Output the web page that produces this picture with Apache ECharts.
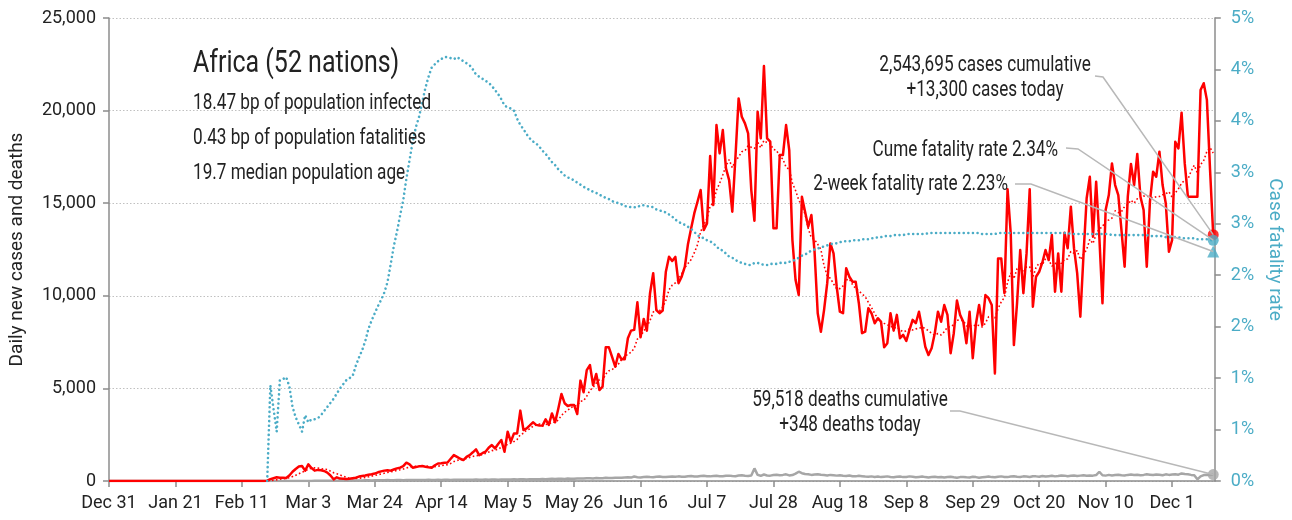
<!DOCTYPE html>
<html>
<head>
<meta charset="utf-8">
<title>Africa (52 nations)</title>
<script src="https://cdn.jsdelivr.net/npm/echarts@6/dist/echarts.min.js"></script>
<style>
  html, body { margin: 0; padding: 0; background: #ffffff; }
  #chart { width: 1292px; height: 520px; }
</style>
</head>
<body>
<div id="chart"></div>
<script>
// ---- Data -------------------------------------------------------------
// Day 0 is Dec 31, 2019; one value per day.
const startDateUTC = Date.UTC(2019, 11, 31);
const tickEveryDays = 21;
const monthNames = ['Jan','Feb','Mar','Apr','May','Jun','Jul','Aug','Sep','Oct','Nov','Dec'];

// Daily new cases
const dailyCases = [
  0,0,0,0,0,0,0,0,0,0, 0,0,0,0,0,0,0,0,0,0, 0,0,0,0,0,0,0,0,0,0,
  0,0,0,0,0,0,0,0,0,0, 0,0,0,0,0,0,0,0,0,0,
  20,100,150,200,180,170,160,300,500,650,
  780,810,560,900,700,560,600,580,540,450,
  300,90,200,130,120,110,120,150,180,240,
  270,300,340,360,400,470,520,560,580,560,
  620,680,720,800,990,900,720,760,790,810,
  770,740,720,850,945,960,980,1000,1200,1400,
  1300,1200,1130,1300,1400,1550,1710,1400,1500,1580,
  1800,1940,1760,2000,2210,1580,2660,2120,2570,2570,
  3800,2750,2840,3000,3170,3030,3000,2990,3330,3030,
  3650,3170,3900,4700,4200,4050,4100,4100,3620,5420,
  4790,5990,6260,5180,5780,4910,5090,7220,7220,6700,
  6170,6860,6570,6570,7710,8120,8160,9650,7760,8750,
  8120,10140,11220,9230,9060,9200,11300,12110,11880,12100,
  10680,11030,11570,12800,13650,14460,15080,15710,13550,13910,
  17550,14900,19220,17690,18950,16880,16250,14540,17510,20660,
  19670,19310,18770,15710,14050,19940,18500,22410,18500,18320,
  13650,13650,17600,17600,19220,17870,13010,10850,10040,15350,
  14540,13730,14360,12380,9060,8060,9230,10680,12830,12290,
  10490,9140,9060,11490,11030,10760,10760,9600,7980,8060,
  9330,9060,8520,8790,8600,7220,7440,9060,8120,8970,
  7710,7890,7560,8160,8700,8520,9140,8250,7250,6800,
  7170,7980,9140,8600,9500,8970,6900,7980,9740,8970,
  8600,7440,9140,6630,8480,9500,8420,10040,9870,9500,
  5810,12020,12020,10140,15750,13380,7340,9600,12470,10140,
  12290,15750,9410,11030,11300,11800,12470,11930,13280,10220,
  12290,10220,13410,12570,14810,12570,11220,8870,12200,15270,
  16430,13190,16160,13190,9600,14630,15440,17150,15980,15440,
  13550,11570,15350,17120,15980,17660,15350,14630,11570,15080,
  16700,16430,17780,15980,15000,12380,13010,18320,17960,19890,
  17150,15350,15350,15350,15350,21110,21480,20580,16800,13300
];

// Daily deaths
const dailyDeaths = [
  0,0,0,0,0,0,0,0,0,0, 0,0,0,0,0,0,0,0,0,0, 0,0,0,0,0,0,0,0,0,0,
  0,0,0,0,0,0,0,0,0,0, 0,0,0,0,0,0,0,0,0,0,
  0,0,1,0,1,2,1,2,3,2,
  4,3,5,6,4,8,10,12,9,14,
  15,18,20,22,19,25,28,30,26,32,
  30,35,38,33,40,42,38,45,48,40,
  44,50,52,47,55,58,50,56,60,52,
  58,62,55,60,65,58,63,68,60,66,
  70,62,68,72,65,70,75,68,74,78,
  70,76,80,74,82,85,78,86,90,82,
  88,92,85,95,100,90,98,105,96,110,
  115,105,120,125,112,130,128,120,140,135,
  130,150,145,138,160,155,150,170,165,158,
  170,180,175,190,200,185,240,205,195,215,
  225,210,200,230,240,220,215,235,245,230,
  250,235,225,260,270,245,240,265,280,255,
  250,270,285,260,255,280,290,265,260,300,
  310,280,270,300,680,330,280,350,300,290,
  320,340,310,330,360,300,320,400,500,420,
  380,360,330,350,370,340,320,300,330,310,
  290,310,280,270,300,260,250,280,260,240,
  230,250,220,240,210,230,250,220,200,230,
  240,210,220,250,230,200,220,240,210,190,
  210,230,200,220,190,210,230,200,180,210,
  220,200,190,230,210,180,200,220,240,210,
  200,230,250,220,210,240,260,230,220,250,
  240,220,260,250,230,270,240,260,280,250,
  270,300,290,260,280,300,270,290,310,280,
  300,290,320,500,310,290,330,300,320,340,
  310,300,330,350,320,340,310,330,360,340,
  320,350,340,310,360,330,350,370,340,410,
  380,360,330,310,90,250,320,340,330,348
];

// Cumulative case fatality rate (%), first value on day 50
const fatalityStartDay = 50;
const fatalityRatePct = [
  0,0.93,0.70,0.48,0.98,0.99,1.01,0.92,0.72,0.62,
  0.55,0.48,0.64,0.57,0.60,0.60,0.61,0.64,0.68,0.72,
  0.76,0.80,0.85,0.90,0.94,0.98,1.00,1.02,1.12,1.20,
  1.27,1.36,1.48,1.56,1.63,1.70,1.76,1.83,1.93,2.10,
  2.28,2.42,2.58,2.73,2.94,3.12,3.30,3.44,3.54,3.68,
  3.82,3.93,4.02,4.05,4.08,4.10,4.12,4.12,4.11,4.10,
  4.12,4.10,4.08,4.06,4.04,4.00,3.95,3.93,3.91,3.89,
  3.87,3.84,3.80,3.76,3.71,3.65,3.63,3.62,3.60,3.52,
  3.46,3.42,3.37,3.33,3.30,3.28,3.25,3.21,3.18,3.14,
  3.10,3.07,3.03,3.00,2.97,2.95,2.94,2.92,2.90,2.88,
  2.86,2.84,2.83,2.81,2.80,2.78,2.77,2.75,2.74,2.72,
  2.71,2.70,2.69,2.67,2.67,2.66,2.66,2.66,2.68,2.68,
  2.67,2.67,2.66,2.64,2.63,2.62,2.61,2.59,2.57,2.54,
  2.52,2.50,2.49,2.47,2.45,2.42,2.39,2.37,2.36,2.34,
  2.33,2.31,2.28,2.25,2.24,2.21,2.18,2.17,2.15,2.13,
  2.12,2.11,2.10,2.10,2.12,2.12,2.11,2.10,2.10,2.11,
  2.11,2.11,2.12,2.12,2.12,2.13,2.14,2.15,2.17,2.19,
  2.20,2.22,2.24,2.25,2.26,2.27,2.28,2.29,2.30,2.31,
  2.31,2.32,2.33,2.33,2.33,2.34,2.34,2.34,2.35,2.35,
  2.35,2.36,2.36,2.37,2.37,2.38,2.38,2.38,2.39,2.39,
  2.39,2.39,2.40,2.40,2.40,2.40,2.40,2.40,2.40,2.41,
  2.41,2.41,2.41,2.41,2.41,2.41,2.41,2.41,2.41,2.41,
  2.41,2.41,2.41,2.41,2.41,2.41,2.40,2.40,2.40,2.40,
  2.40,2.41,2.41,2.41,2.41,2.41,2.41,2.41,2.41,2.41,
  2.41,2.41,2.41,2.41,2.41,2.41,2.41,2.41,2.41,2.41,
  2.41,2.41,2.41,2.41,2.40,2.40,2.40,2.40,2.40,2.40,
  2.40,2.40,2.40,2.40,2.40,2.40,2.40,2.39,2.39,2.39,
  2.39,2.39,2.39,2.39,2.39,2.39,2.39,2.39,2.39,2.38,
  2.38,2.38,2.38,2.38,2.37,2.37,2.37,2.37,2.37,2.36,
  2.36,2.36,2.36,2.36,2.35,2.35,2.35,2.35,2.34,2.34
];

// Latest-day figures
const casesToday = 13300;
const deathsToday = 348;
const cumeFatalityPct = 2.34;
const twoWeekFatalityPct = 2.23;
const casesCumulativeText = '2,543,695';
const deathsCumulativeText = '59,518';

// Region summary
const regionTitle = 'Africa (52 nations)';
const regionFacts = [
  '18.47 bp of population infected',
  '0.43 bp of population fatalities',
  '19.7 median population age'
];

// ---- Chart -------------------------------------------------------------
const FONT = "Roboto,'Liberation Sans',sans-serif";
const CONDENSE = 0.78;          // horizontal squeeze for the free-standing text
const TEXT = '#222222';
const BLUE = '#4bacc6';
const RED = '#ff0000';
const GREY_LINE = '#a6a6a6';
const AXIS_GREY = '#8c8c8c';
const LEADER = '#b8b8b8';

const lastDay = dailyCases.length - 1;

function dayLabel(d) {
  const dt = new Date(startDateUTC + d * 86400000);
  return monthNames[dt.getUTCMonth()] + ' ' + dt.getUTCDate();
}

// 7-day trailing moving average of daily cases (trendline)
const casesTrend7 = dailyCases.map((v, i) => {
  if (i < 6) return null;
  let s = 0;
  for (let k = i - 6; k <= i; k++) s += dailyCases[k];
  return [i, s / 7];
});

const casesSeries = dailyCases.map((v, i) => [i, v]);
const deathsSeries = dailyDeaths.map((v, i) => [i, v]);
const fatalitySeries = fatalityRatePct.map((v, i) => [fatalityStartDay + i, v]);

const chart = echarts.init(document.getElementById('chart'), null, { renderer: 'canvas' });

const option = {
  animation: false,
  backgroundColor: '#ffffff',
  textStyle: { fontFamily: FONT },
  grid: { left: 106, right: 74, top: 18, bottom: 39 },
  xAxis: {
    type: 'value',
    min: 0,
    max: lastDay + 0.5,
    interval: tickEveryDays,
    axisLine: { show: true, onZero: false, lineStyle: { color: AXIS_GREY, width: 1.5 } },
    axisTick: { show: true, length: 6, lineStyle: { color: AXIS_GREY, width: 1.5 } },
    axisLabel: {
      color: TEXT, fontSize: 18, fontFamily: FONT, margin: 13,
      showMaxLabel: false,
      formatter: v => (v % tickEveryDays === 0 ? dayLabel(v) : '')
    },
    splitLine: { show: false }
  },
  yAxis: [
    {
      type: 'value',
      min: 0, max: 25000, interval: 5000,
      name: 'Daily new cases and deaths',
      nameLocation: 'middle',
      nameRotate: 90,
      nameGap: 82,
      nameTextStyle: { color: TEXT, fontSize: 19, fontFamily: FONT },
      axisLine: { show: true, lineStyle: { color: AXIS_GREY, width: 1.5 } },
      axisTick: { show: true, length: 6, lineStyle: { color: AXIS_GREY, width: 1.5 } },
      axisLabel: {
        color: TEXT, fontSize: 18, fontFamily: FONT, margin: 13,
        formatter: v => v.toLocaleString('en-US')
      },
      splitLine: { show: true, lineStyle: { color: '#c0c0c0', width: 1, type: [1.5, 2] } }
    },
    {
      type: 'value',
      position: 'right',
      min: 0, max: 4.5, interval: 0.5,
      name: 'Case fatality rate',
      nameLocation: 'middle',
      nameRotate: -90,
      nameGap: 48,
      nameTextStyle: { color: BLUE, fontSize: 19, fontFamily: FONT },
      axisLine: { show: true, lineStyle: { color: AXIS_GREY, width: 1.5 } },
      axisTick: { show: true, length: 6, lineStyle: { color: AXIS_GREY, width: 1.5 } },
      axisLabel: {
        color: BLUE, fontSize: 18, fontFamily: FONT, margin: 16,
        formatter: v => Math.round(v + 1e-9) + '%'
      },
      splitLine: { show: false }
    }
  ],
  series: [
    {
      name: 'Daily deaths', type: 'line', data: deathsSeries,
      showSymbol: false, symbol: 'none', z: 2,
      lineStyle: { color: GREY_LINE, width: 2.5 }
    },
    {
      name: 'Daily cases', type: 'line', data: casesSeries,
      showSymbol: false, symbol: 'none', z: 3,
      lineStyle: { color: RED, width: 2.5, join: 'round' }
    },
    {
      name: 'Cases 7-day average', type: 'line', data: casesTrend7,
      showSymbol: false, symbol: 'none', z: 4,
      lineStyle: { color: RED, width: 1.6, type: [1.6, 2.4] }
    },
    {
      name: 'Case fatality rate', type: 'line', yAxisIndex: 1, data: fatalitySeries,
      showSymbol: false, symbol: 'none', z: 5,
      lineStyle: { color: BLUE, width: 2.6, type: [0.01, 4.6], cap: 'round' }
    },
    {
      name: 'Cases today', type: 'scatter', data: [[lastDay, casesToday]],
      symbol: 'circle', symbolSize: 11, z: 6,
      itemStyle: { color: RED }
    },
    {
      name: 'Deaths today', type: 'scatter', data: [[lastDay, deathsToday]],
      symbol: 'circle', symbolSize: 11, z: 6,
      itemStyle: { color: GREY_LINE }
    },
    {
      name: 'Cume fatality rate', type: 'scatter', yAxisIndex: 1, data: [[lastDay, cumeFatalityPct]],
      symbol: 'circle', symbolSize: 11, z: 7,
      itemStyle: { color: BLUE }
    },
    {
      name: '2-week fatality rate', type: 'scatter', yAxisIndex: 1, data: [[lastDay, twoWeekFatalityPct]],
      symbol: 'triangle', symbolSize: 12, z: 7,
      itemStyle: { color: BLUE }
    }
  ]
};

chart.setOption(option);

// ---- Annotations ------------------------------------------------------
const pCases = chart.convertToPixel({ xAxisIndex: 0, yAxisIndex: 0 }, [lastDay, casesToday]);
const pDeaths = chart.convertToPixel({ xAxisIndex: 0, yAxisIndex: 0 }, [lastDay, deathsToday]);
const pCume = chart.convertToPixel({ xAxisIndex: 0, yAxisIndex: 1 }, [lastDay, cumeFatalityPct]);
const pTwoWeek = chart.convertToPixel({ xAxisIndex: 0, yAxisIndex: 1 }, [lastDay, twoWeekFatalityPct]);

// Condensed-looking text: a regular face squeezed horizontally about its anchor
function label(x, y, text, opts) {
  return {
    type: 'text', x: x, y: y, z: 20,
    scaleX: CONDENSE, scaleY: 1,
    style: Object.assign({
      text: text, fill: TEXT, fontFamily: FONT, fontSize: 22,
      align: 'left', verticalAlign: 'middle'
    }, opts || {})
  };
}

function leader(points) {
  return {
    type: 'polyline', z: 15, silent: true,
    shape: { points: points },
    style: { stroke: LEADER, lineWidth: 1.5, fill: null }
  };
}

const fmt = n => n.toLocaleString('en-US');

chart.setOption({
  graphic: [
    label(193, 64, regionTitle, { fontSize: 32 }),
    label(193, 103, regionFacts[0], { fontSize: 22 }),
    label(193, 138, regionFacts[1], { fontSize: 22 }),
    label(193, 173, regionFacts[2], { fontSize: 22 }),

    label(985, 65, casesCumulativeText + ' cases cumulative', { align: 'center' }),
    label(985, 90, '+' + fmt(casesToday) + ' cases today', { align: 'center' }),
    leader([[1095, 76], [1103, 77], pCases]),

    label(1058, 150, 'Cume fatality rate ' + cumeFatalityPct.toFixed(2) + '%', { align: 'right' }),
    leader([[1066, 148], [1078, 149], pCume]),

    label(1008, 184, '2-week fatality rate ' + twoWeekFatalityPct.toFixed(2) + '%', { align: 'right' }),
    leader([[1015, 184], [1031, 184], pTwoWeek]),

    label(850, 400, deathsCumulativeText + ' deaths cumulative', { align: 'center' }),
    label(850, 425, '+' + fmt(deathsToday) + ' deaths today', { align: 'center' }),
    leader([[950, 411], [960, 411], pDeaths])
  ]
});
</script>
</body>
</html>
